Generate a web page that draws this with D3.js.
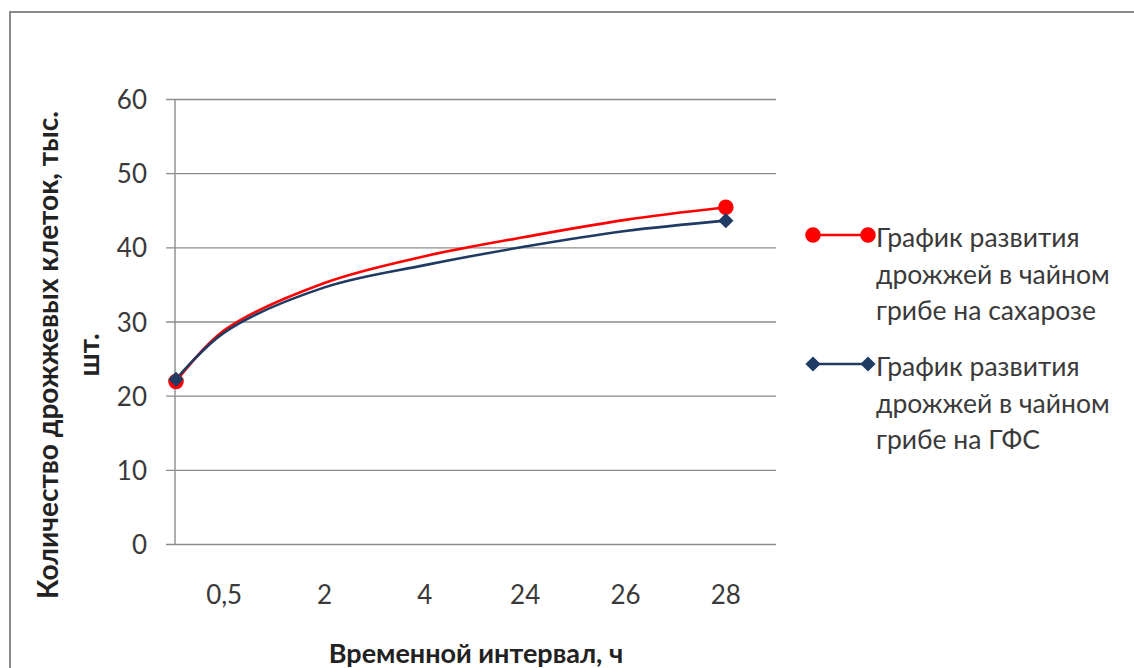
<!DOCTYPE html>
<html>
<head>
<meta charset="utf-8">
<script src="https://cdn.jsdelivr.net/npm/d3@7"></script>
<style>
  body { margin: 0; background: #fff; }
  svg { display: block; }
  text { font-family: Lato, "Open Sans", "Noto Sans", sans-serif; }
</style>
</head>
<body>
<svg id="chart" width="1134" height="668"></svg>
<script>
// Time intervals (hours) shown on the category axis
const categories = ["0,5", "2", "4", "24", "26", "28"];
const yTicks = [0, 10, 20, 30, 40, 50, 60];

// Yeast cell counts, thousands. The first value is at the start of the
// time axis, the remaining ones at each interval.
const sucrose = [21.9, 28.8, 35.2, 38.8, 41.4, 43.7, 45.4];
const gfs = [22.2, 28.5, 34.6, 37.6, 40.1, 42.2, 43.6];

const seriesLabels = [
  ["График развития", "дрожжей в чайном", "грибе на сахарозе"],
  ["График развития", "дрожжей в чайном", "грибе на ГФС"]
];
const yTitle = ["Количество дрожжевых клеток, тыс.", "шт."];
const xTitle = "Временной интервал, ч";

const svg = d3.select("#chart");

// outer chart frame
svg.append("rect")
  .attr("x", 10).attr("y", 12)
  .attr("width", 1300).attr("height", 800)
  .attr("fill", "#fff")
  .attr("stroke", "#8a8a8a").attr("stroke-width", 2);

const plot = { left: 174, right: 776, top: 99, bottom: 544 };

const x = d3.scaleBand().domain(categories).range([plot.left, plot.right]).padding(0);
const y = d3.scaleLinear().domain([0, 60]).range([plot.bottom, plot.top]);

const gridColor = "#8c8c8c";

// horizontal gridlines + y axis ticks
const yAxis = d3.axisLeft(y).tickValues(yTicks).tickSize(-(plot.right - plot.left)).tickPadding(0).tickFormat("");
const gy = svg.append("g").attr("transform", `translate(${plot.left},0)`).call(yAxis);
gy.select(".domain").remove();
gy.selectAll(".tick line")
  .attr("x1", -8)
  .attr("stroke", gridColor).attr("stroke-width", 1.4);

// y tick labels
svg.append("g").selectAll("text")
  .data(yTicks)
  .join("text")
  .attr("x", 147)
  .attr("y", d => y(d))
  .attr("text-anchor", "end")
  .attr("dominant-baseline", "central")
  .attr("font-size", 26)
  .attr("fill", "#3a3a3a")
  .text(d => d);

// vertical value axis line
svg.append("line")
  .attr("x1", plot.left + 1).attr("x2", plot.left + 1)
  .attr("y1", plot.top).attr("y2", plot.bottom)
  .attr("stroke", gridColor).attr("stroke-width", 1.4);

// category axis labels
const xAxis = d3.axisBottom(x).tickSize(0).tickPadding(0);
const gx = svg.append("g").attr("transform", `translate(0,${plot.bottom})`).call(xAxis);
gx.select(".domain").remove();
gx.selectAll(".tick text")
  .attr("y", 50)
  .attr("dy", null)
  .attr("dominant-baseline", "central")
  .attr("font-size", 26)
  .attr("font-family", 'Lato, "Open Sans", sans-serif')
  .attr("fill", "#3a3a3a");

// axis titles
svg.append("text")
  .attr("x", 476)
  .attr("y", 652)
  .attr("text-anchor", "middle")
  .attr("dominant-baseline", "central")
  .attr("font-size", 27)
  .attr("font-weight", "bold")
  .attr("fill", "#222")
  .text(xTitle);

svg.append("g").selectAll("text")
  .data(yTitle)
  .join("text")
  .attr("transform", (d, i) => `translate(${i === 0 ? 47 : 88},355) rotate(-90)`)
  .attr("text-anchor", "middle")
  .attr("dominant-baseline", "central")
  .attr("font-size", 28)
  .attr("font-weight", "bold")
  .attr("fill", "#222")
  .text(d => d);

// point positions: start of the axis, then each category centre
const px = i => i === 0 ? plot.left + 2 : x(categories[i - 1]) + x.bandwidth() / 2;

const line = d3.line()
  .x((d, i) => px(i))
  .y(d => y(d))
  .curve(d3.curveCatmullRom.alpha(0.5));

const diamond = {
  draw(ctx, size) {
    const r = Math.sqrt(size / 2);
    ctx.moveTo(0, -r); ctx.lineTo(r, 0); ctx.lineTo(0, r); ctx.lineTo(-r, 0); ctx.closePath();
  }
};

const series = [
  { values: sucrose, color: "#ff0000", marker: d3.symbolCircle, size: 190 },
  { values: gfs, color: "#1f3a63", marker: diamond, size: 115 }
];

series.forEach(s => {
  svg.append("path")
    .datum(s.values)
    .attr("d", line)
    .attr("fill", "none")
    .attr("stroke", s.color)
    .attr("stroke-width", 2.6);
});

// markers at the first and last points of each series
series.forEach(s => {
  const last = s.values.length - 1;
  svg.append("g").selectAll("path")
    .data([0, last])
    .join("path")
    .attr("transform", i => `translate(${px(i)},${y(s.values[i])})`)
    .attr("d", d3.symbol().type(s.marker).size(s.size))
    .attr("fill", s.color);
});

// legend
const legend = svg.append("g");
const legendRows = [235, 364];
const lineGap = 36.5;
series.forEach((s, k) => {
  const g = legend.append("g").attr("transform", `translate(0,${legendRows[k]})`);
  g.append("line")
    .attr("x1", 813).attr("x2", 868)
    .attr("stroke", s.color).attr("stroke-width", 2.6);
  [813, 868].forEach(mx => {
    g.append("path")
      .attr("transform", `translate(${mx},0)`)
      .attr("d", d3.symbol().type(s.marker).size(s.size))
      .attr("fill", s.color);
  });
  g.selectAll("text")
    .data(seriesLabels[k])
    .join("text")
    .attr("x", 876)
    .attr("y", (d, i) => 2 + i * lineGap)
    .attr("dominant-baseline", "central")
    .attr("font-size", 26.5)
    .attr("fill", "#3a3a3a")
    .text(d => d);
});
</script>
</body>
</html>
